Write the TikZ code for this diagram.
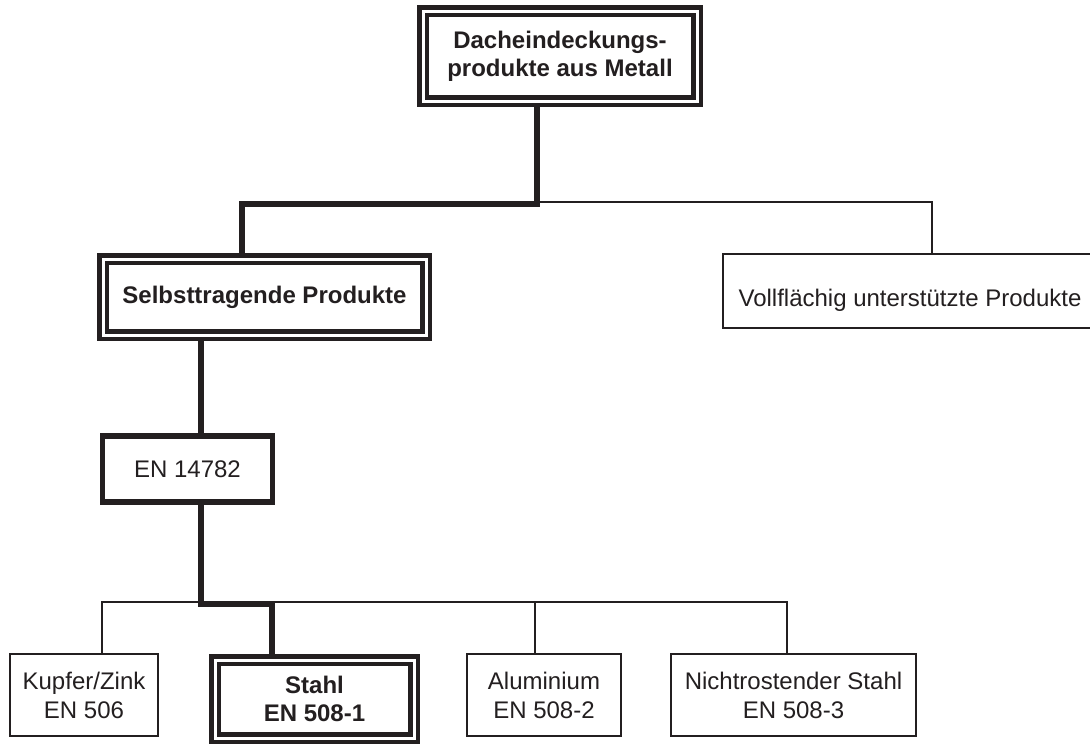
\documentclass[tikz,border=0pt]{standalone}
\usepackage{fontspec}
\setmainfont{Liberation Sans}
\usetikzlibrary{backgrounds}
\definecolor{ink}{RGB}{35,31,32}
\begin{document}
\begin{tikzpicture}[x=1pt,y=-1pt,
  every node/.style={font=\fontsize{24}{29}\selectfont, text=ink, align=center, inner sep=0pt},
  dbox/.style={draw=ink, fill=white, line width=4.5pt, double=white, double distance=3pt, font=\bfseries\fontsize{24}{28}\selectfont},
  tbox/.style={draw=ink, fill=white, line width=2pt},
  kbox/.style={draw=ink, fill=white, line width=5.5pt},
  thickln/.style={draw=ink, line width=6pt},
  thinln/.style={draw=ink, line width=2pt}]
\useasboundingbox (0,0) rectangle (1090,745);
\clip (0,0) rectangle (1090,745);
% nodes
\node[dbox, minimum width=274, minimum height=90] (top) at (560,56) {Dacheindeckungs-\\produkte aus Metall};
\node[dbox, minimum width=323, minimum height=76] (selb) at (264.5,297) {Selbsttragende Produkte};
\node[tbox, minimum width=374, minimum height=74] (voll) at (910,291) {};
\node (vollt) at (910,300) {Vollflächig unterstützte Produkte};
\node[kbox, minimum width=170, minimum height=66] (en) at (187.5,469) {EN 14782};
\node[tbox, minimum width=148, minimum height=82] (kupfer) at (84,695) {Kupfer/Zink\\EN 506};
\node[dbox, minimum width=199, minimum height=78] (stahl) at (314.5,699) {Stahl\\EN 508-1};
\node[tbox, minimum width=154, minimum height=82] (al) at (544,695) {Aluminium\\EN 508-2};
\node[tbox, minimum width=245, minimum height=82] (nicht) at (793.5,695) {Nichtrostender Stahl\\EN 508-3};
% junctions
\coordinate (j1) at (537,204);
\coordinate (j2) at (242,204);
\coordinate (j1t) at (537,202);
\coordinate (j3) at (932,202);
\coordinate (j4) at (201,400);
\coordinate (j5) at (201,604);
\coordinate (j6) at (272,604);
\coordinate (b1) at (102,602);
\coordinate (b2) at (787,602);
\coordinate (b3) at (535,602);
\begin{scope}[on background layer]
\draw[thickln] (top.south -| j1) -- (j1) -- (j2) -- (selb.north -| j2);
\draw[thinln] (j1t) -- (j3) -- (voll.north -| j3);
\draw[thickln] (selb.south -| j4) -- (en.north -| j4);
\draw[thickln] (en.south -| j5) -- (j5) -- (j6) -- (stahl.north -| j6);
\draw[thinln] (kupfer.north -| b1) -- (b1) -- (b2) -- (nicht.north -| b2);
\draw[thinln] (b3) -- (al.north -| b3);
\end{scope}
\end{tikzpicture}
\end{document}
